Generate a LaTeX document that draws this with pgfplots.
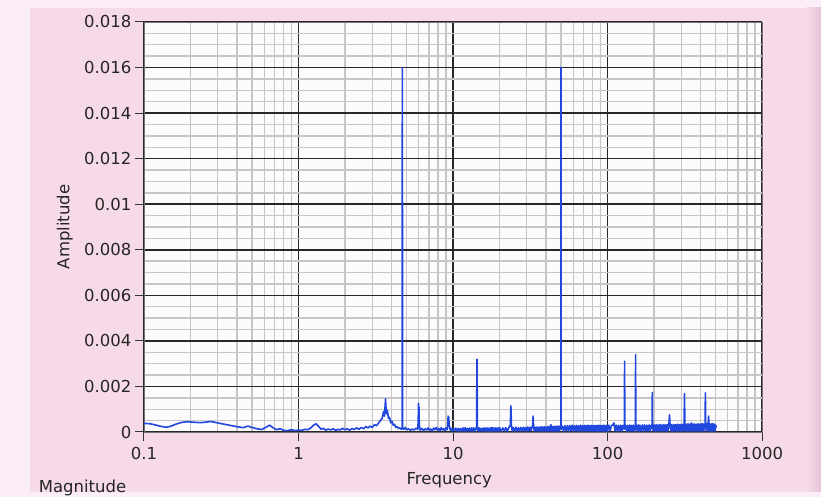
\documentclass[border=0pt]{standalone}
\usepackage{fontspec}
\setmainfont{DejaVu Sans}
\usepackage{pgfplots}
\pgfplotsset{compat=1.18}
\definecolor{pinkbg}{RGB}{246,218,231}
\definecolor{pinkedge}{RGB}{251,238,248}
\definecolor{pinkdark}{RGB}{228,196,214}
\definecolor{plotbg}{RGB}{253,251,253}
\definecolor{majgrid}{RGB}{40,40,40}
\definecolor{mingrid}{RGB}{198,198,198}
\definecolor{specblue}{RGB}{32,72,222}
\begin{document}
\begin{tikzpicture}
\path[use as bounding box] (0,0) rectangle (821pt,497pt);
\fill[pinkedge] (0,0) rectangle (821pt,497pt);
\fill[pinkbg] (30pt,5pt) rectangle (812pt,489pt);
\shade[left color=pinkbg, right color=pinkdark] (806pt,5pt) rectangle (821pt,489pt);
\begin{axis}[
  at={(144pt,65pt)}, anchor=south west,
  scale only axis, width=618pt, height=410pt,
  xmode=log, xmin=0.1, xmax=1000, ymin=0, ymax=0.018,
  axis background/.style={fill=plotbg},
  xtick={0.1,1,10,100,1000}, xticklabels={0.1,1,10,100,1000},
  minor xtick={0.2,0.3,0.4,0.5,0.6,0.7,0.8,0.9,2,3,4,5,6,7,8,9,20,30,40,50,60,70,80,90,200,300,400,500,600,700,800,900},
  ytick={0,0.002,0.004,0.006,0.008,0.01,0.012,0.014,0.016,0.018},
  yticklabels={0,0.002,0.004,0.006,0.008,0.01,0.012,0.014,0.016,0.018},
  minor y tick num=3,
  scaled y ticks=false,
  grid=both,
  major grid style={majgrid, line width=1.6pt},
  minor grid style={mingrid, line width=1.4pt},
  tick pos=left, tick align=outside,
  major tick length=9pt, minor tick length=0pt,
  every tick/.style={black!80, line width=1pt},
  axis line style={draw=black!55, line width=0.8pt},
  tick label style={font=\fontsize{16.5}{19}\selectfont, text=black!85},
  xticklabel style={yshift=-3pt},
  label style={font=\fontsize{16.5}{19}\selectfont, text=black!85},
  xlabel={Frequency}, ylabel={Amplitude},
  xlabel style={at={(axis description cs:0.494,-0.117)}, anchor=center},
  ylabel style={at={(axis description cs:-0.128,0.5)}, anchor=center},
  clip mode=individual,
]
\addplot[specblue, line width=1.6pt, line join=round] coordinates {
(0.100,0.00038)(0.110,0.00036)(0.120,0.00030)(0.130,0.00024)(0.140,0.00021)(0.150,0.00026)
(0.160,0.00034)(0.175,0.00042)(0.190,0.00045)(0.210,0.00043)(0.230,0.00041)(0.250,0.00043)
(0.270,0.00046)(0.290,0.00042)(0.320,0.00036)(0.350,0.00031)(0.380,0.00026)(0.410,0.00022)
(0.440,0.00019)(0.470,0.00026)(0.500,0.00020)(0.540,0.00014)(0.580,0.00011)(0.620,0.00022)
(0.650,0.00030)(0.680,0.00020)(0.720,0.00010)(0.760,0.00015)(0.800,0.00007)(0.850,0.00006)
(0.900,0.00010)(0.950,0.00006)(1.000,0.00008)(1.050,0.00007)(1.100,0.00012)(1.150,0.00010)
(1.200,0.00018)(1.250,0.00030)(1.300,0.00036)(1.350,0.00025)(1.400,0.00012)(1.450,0.00016)
(1.500,0.00008)(1.560,0.00013)(1.620,0.00009)(1.680,0.00014)(1.740,0.00007)(1.800,0.00012)
(1.860,0.00009)(1.930,0.00016)(2.000,0.00010)(2.070,0.00014)(2.140,0.00008)(2.220,0.00015)
(2.300,0.00011)(2.380,0.00018)(2.460,0.00012)(2.550,0.00020)(2.640,0.00014)(2.730,0.00024)
(2.820,0.00018)(2.910,0.00026)(3.000,0.00020)(3.100,0.00032)(3.200,0.00028)(3.300,0.00040)
(3.400,0.00052)(3.480,0.00060)(3.550,0.00090)(3.600,0.00070)(3.660,0.00145)(3.700,0.00080)
(3.760,0.00095)(3.820,0.00060)(3.880,0.00065)(3.950,0.00040)(4.020,0.00048)(4.100,0.00030)
(4.180,0.00034)(4.260,0.00020)(4.350,0.00024)(4.440,0.00015)(4.530,0.00018)(4.620,0.00012)
(4.680,0.00014)(4.700,0.01600)(4.720,0.00015)(4.800,0.00012)(4.900,0.00020)(5.000,0.00010)
(5.150,0.00014)(5.300,0.00008)(5.450,0.00013)(5.600,0.00009)(5.750,0.00016)(5.900,0.00012)
(5.950,0.00040)(5.980,0.00125)(6.000,0.00100)(6.020,0.00110)(6.050,0.00035)(6.100,0.00015)
(6.15,0.00008)(6.3,0.00016)(6.45,0.00006)(6.6,0.00014)(6.75,0.00009)(6.9,0.00018)
(7.05,0.00007)(7.2,0.00013)(7.35,0.00005)(7.5,0.00017)(7.65,0.00010)(7.8,0.00020)
(7.95,0.00008)(8.1,0.00015)(8.25,0.00006)(8.4,0.00019)(8.55,0.00009)(8.7,0.00014)
(8.85,0.00006)(9.0,0.00018)(9.15,0.00010)(9.25,0.00030)(9.3,0.00070)(9.38,0.00065)
(9.45,0.00028)(9.6,0.00008)(9.75,0.00016)(9.9,0.00005)(10.05,0.00014)(10.2,0.00006)
(10.4,0.00017)(10.6,0.00004)(10.8,0.00016)(11.0,0.00005)(11.2,0.00015)(11.4,0.00004)
(11.6,0.00018)(11.8,0.00005)(12.0,0.00019)(12.2,0.00004)(12.4,0.00016)(12.6,0.00005)
(12.8,0.00017)(13.0,0.00004)(13.2,0.00018)(13.4,0.00005)(13.6,0.00018)(13.8,0.00004)
(14.0,0.00016)(14.2,0.00012)(14.3,0.00320)(14.4,0.00010)(14.6,0.00004)(14.8,0.00018)
(15.0,0.00005)(15.2,0.00016)(15.4,0.00004)(15.6,0.00017)(15.8,0.00005)(16.0,0.00018)
(16.2,0.00004)(16.4,0.00017)(16.6,0.00005)(16.8,0.00018)(17.0,0.00004)(17.2,0.00016)
(17.4,0.00005)(17.6,0.00019)(17.8,0.00004)(18.0,0.00020)(18.2,0.00005)(18.4,0.00017)
(18.6,0.00004)(18.8,0.00018)(19.0,0.00005)(19.2,0.00017)(19.4,0.00004)(19.6,0.00018)
(19.8,0.00005)(20,0.00019)(20.5,0.00004)(21,0.00018)(21.5,0.00005)(22,0.00019)
(22.5,0.00004)(23,0.00020)(23.5,0.00030)(23.7,0.00115)(23.9,0.00025)(24.2,0.00004)
(24.5,0.00020)(25,0.00005)(25.5,0.00021)(26,0.00004)(26.5,0.00019)(27,0.00005)
(27.5,0.00020)(28,0.00004)(28.5,0.00021)(29,0.00005)(29.5,0.00020)(30,0.00004)
(30.5,0.00022)(31,0.00005)(31.5,0.00021)(32,0.00006)(32.8,0.00030)(33,0.00070)
(33.2,0.00028)(33.6,0.00004)(34,0.00021)(34.5,0.00005)(35,0.00022)(35.5,0.00004)
(36,0.00021)(36.5,0.00005)(37,0.00023)(37.5,0.00004)(38,0.00022)(38.5,0.00005)
(39,0.00023)(39.5,0.00004)(40,0.00022)(40.5,0.00005)(41,0.00024)(41.5,0.00004)
(42,0.00023)(42.5,0.00006)(43,0.00032)(43.5,0.00005)(44,0.00024)(44.5,0.00004)
(45,0.00025)(45.5,0.00005)(46,0.00024)(46.5,0.00004)(47,0.00026)(47.5,0.00005)
(48,0.00025)(48.5,0.00004)(49,0.00026)(49.9,0.00012)(50,0.01600)(50.1,0.00012)
(51,0.00026)(52,0.00004)(53,0.00028)(54,0.00005)(55,0.00028)(56,0.00004)
(57,0.00029)(58,0.00005)(59,0.00030)(60,0.00004)(61,0.00028)(62,0.00005)
(63,0.00029)(64,0.00004)(65,0.00028)(66,0.00005)(67,0.00030)(68,0.00004)
(69,0.00028)(70,0.00005)(71,0.00029)(72,0.00004)(73,0.00028)(74,0.00005)
(75,0.00030)(76,0.00004)(77,0.00028)(78,0.00005)(79,0.00029)(80,0.00004)
(81,0.00028)(82,0.00005)(83,0.00029)(84,0.00004)(85,0.00028)(86,0.00005)
(87,0.00030)(88,0.00004)(89,0.00028)(90,0.00005)(91,0.00029)(92,0.00004)
(93,0.00028)(94,0.00005)(95,0.00030)(96,0.00004)(97,0.00028)(98,0.00005)
(99,0.00029)(100,0.00004)(102,0.00030)(104,0.00005)(106,0.00029)(108,0.00030)
(110,0.00040)(112,0.00005)(114,0.00030)(116,0.00004)(118,0.00029)(120,0.00005)
(122,0.00030)(124,0.00004)(126,0.00029)(128.5,0.00012)(129,0.00310)(129.5,0.00014)
(131,0.00030)(133,0.00004)(135,0.00029)(137,0.00005)(139,0.00030)(141,0.00004)
(143,0.00029)(145,0.00005)(147,0.00030)(149,0.00004)(151.5,0.00012)(152,0.00340)
(152.5,0.00015)(154,0.00030)(156,0.00005)(158,0.00031)(160,0.00004)(162,0.00030)
(165,0.00005)(168,0.00031)(171,0.00004)(174,0.00032)(177,0.00005)(180,0.00030)
(183,0.00004)(186,0.00031)(189,0.00005)(192,0.00030)(194.5,0.00020)(195,0.00173)
(195.5,0.00018)(198,0.00005)(201,0.00031)(204,0.00004)(207,0.00032)(210,0.00005)
(213,0.00031)(216,0.00004)(219,0.00033)(222,0.00005)(225,0.00031)(228,0.00004)
(231,0.00032)(234,0.00005)(237,0.00031)(240,0.00004)(243,0.00033)(246,0.00005)
(250,0.00040)(252,0.00075)(254,0.00030)(257,0.00005)(260,0.00032)(264,0.00004)
(268,0.00033)(272,0.00005)(276,0.00032)(280,0.00004)(284,0.00034)(288,0.00005)
(292,0.00032)(296,0.00004)(300,0.00034)(304,0.00005)(308,0.00033)(311,0.00005)
(313,0.00030)(315,0.00168)(317,0.00030)(320,0.00005)(324,0.00034)(328,0.00004)
(332,0.00036)(336,0.00005)(340,0.00034)(344,0.00004)(348,0.00040)(352,0.00005)
(356,0.00034)(360,0.00004)(365,0.00036)(370,0.00005)(375,0.00034)(380,0.00004)
(385,0.00036)(390,0.00005)(395,0.00034)(400,0.00004)(405,0.00037)(410,0.00005)
(415,0.00036)(420,0.00004)(425,0.00034)(428,0.00030)(430,0.00172)(432,0.00030)
(436,0.00005)(440,0.00036)(444,0.00004)(448,0.00034)(451,0.00070)(454,0.00028)
(458,0.00005)(462,0.00036)(466,0.00004)(470,0.00035)(474,0.00005)(478,0.00036)
(482,0.00004)(486,0.00035)(490,0.00005)(494,0.00034)(498,0.00006)(502,0.00030)
(505,0.00020)
};
\node[anchor=west, font=\fontsize{16.5}{19}\selectfont, text=black!85] at (axis description cs:-0.176,-0.137) {Magnitude};
\end{axis}
\end{tikzpicture}
\end{document}
